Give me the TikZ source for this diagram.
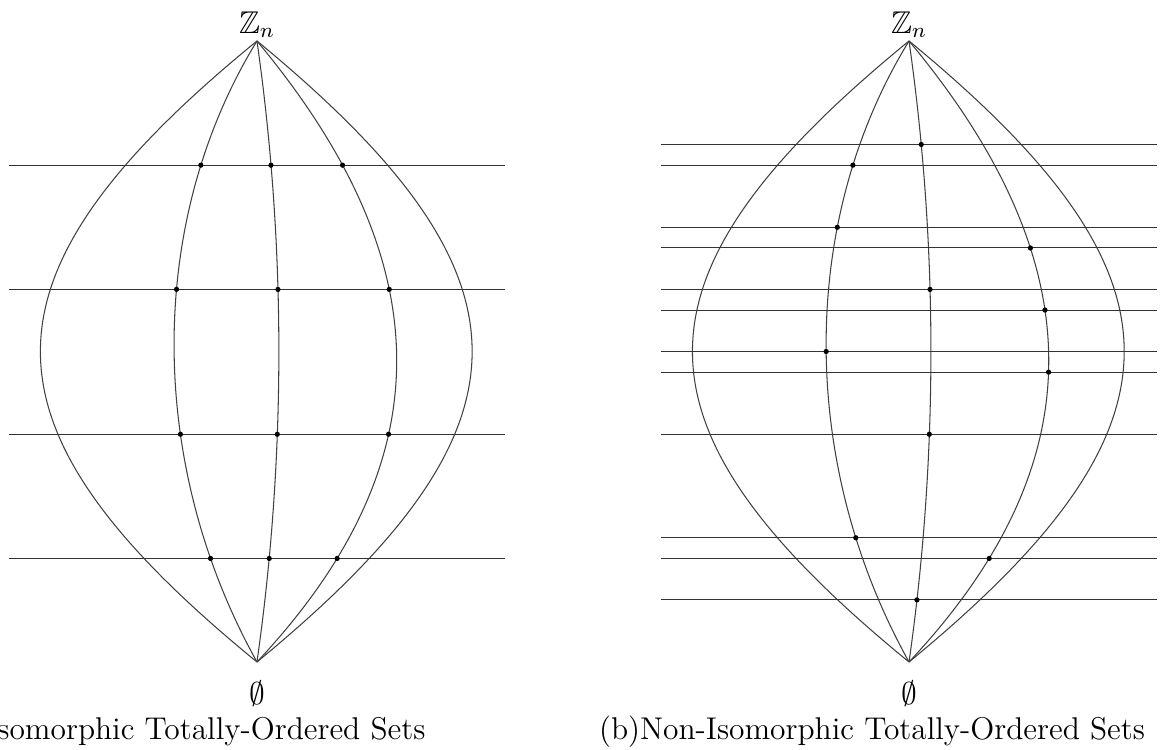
\documentclass[tikz,border=0pt]{standalone}
\usepackage{amssymb,amsmath}
\usetikzlibrary{intersections,positioning}

\tikzset{
	chain/.style={thin, black!75},
	level/.style={thin, black!80},
	elt/.style={fill=black},
}

\begin{document}
\begin{tikzpicture}[x=0.833cm, y=0.833cm, font=\large]
		\useasboundingbox (-4.138,-1.417) rectangle (14.622,10.66);
		% (a) isomorphic
		\begin{scope}
			\coordinate (topa) at (0,10);
			\coordinate (bota) at (0,0);
			% chains from empty set to Z_n
			\draw[chain, name path global=a1] (bota) .. controls (-4.65,3.8) and (-4.65,6.2) .. (topa);
			\draw[chain, name path global=a2] (bota) .. controls (-1.78,3.2) and (-1.78,7.1) .. (topa);
			\draw[chain, name path global=a3] (bota) .. controls (0.47,3.3) and (0.47,6.7) .. (topa);
			\draw[chain, name path global=a4] (bota) .. controls (3.0,3.2) and (3.0,6.4) .. (topa);
			\draw[chain, name path global=a5] (bota) .. controls (4.62,3.8) and (4.62,6.2) .. (topa);
			% levels and their elements
			\foreach \y in {8,6,3.667,1.667} {
				\draw[level, name path global=lev] (-4,\y) -- (4,\y);
				\foreach \k in {a2,a3,a4}
					\fill[elt, name intersections={of=lev and \k}] (intersection-1) circle (1pt);
			}
			\node[above=0pt, inner sep=1pt] (zna) at (topa) {$\mathbb{Z}_n$};
			\node[anchor=base] (ea) at (0,-0.69) {$\emptyset$};
			\node[anchor=base west, inner sep=0pt] (capa) at (-5,-1.256) {(a)Isomorphic Totally-Ordered Sets};
		\end{scope}
		% (b) non-isomorphic
		\begin{scope}[shift={(10.5,0)}]
			\coordinate (topb) at (0,10);
			\coordinate (botb) at (0,0);
			% chains from empty set to Z_n
			\draw[chain, name path global=b1] (botb) .. controls (-4.65,3.8) and (-4.65,6.2) .. (topb);
			\draw[chain, name path global=b2] (botb) .. controls (-1.78,3.2) and (-1.78,7.1) .. (topb);
			\draw[chain, name path global=b3] (botb) .. controls (0.47,3.3) and (0.47,6.7) .. (topb);
			\draw[chain, name path global=b4] (botb) .. controls (3.0,3.2) and (3.0,6.4) .. (topb);
			\draw[chain, name path global=b5] (botb) .. controls (4.62,3.8) and (4.62,6.2) .. (topb);
			% levels, one element each
			\foreach \y/\k in {8.333/b3, 8/b2, 7/b2, 6.667/b4, 6/b3, 5.667/b4, 5/b2, 4.667/b4, 3.667/b3, 2/b2, 1.667/b4, 1/b3} {
				\draw[level, name path global=lev] (-4,\y) -- (4,\y);
				\fill[elt, name intersections={of=lev and \k}] (intersection-1) circle (1pt);
			}
			\node[above=0pt, inner sep=1pt] (znb) at (topb) {$\mathbb{Z}_n$};
			\node[anchor=base] (eb) at (0,-0.69) {$\emptyset$};
			\node[anchor=base west, inner sep=0pt] (capb) at (-5,-1.256) {(b)Non-Isomorphic Totally-Ordered Sets};
		\end{scope}
	\end{tikzpicture}
\end{document}
